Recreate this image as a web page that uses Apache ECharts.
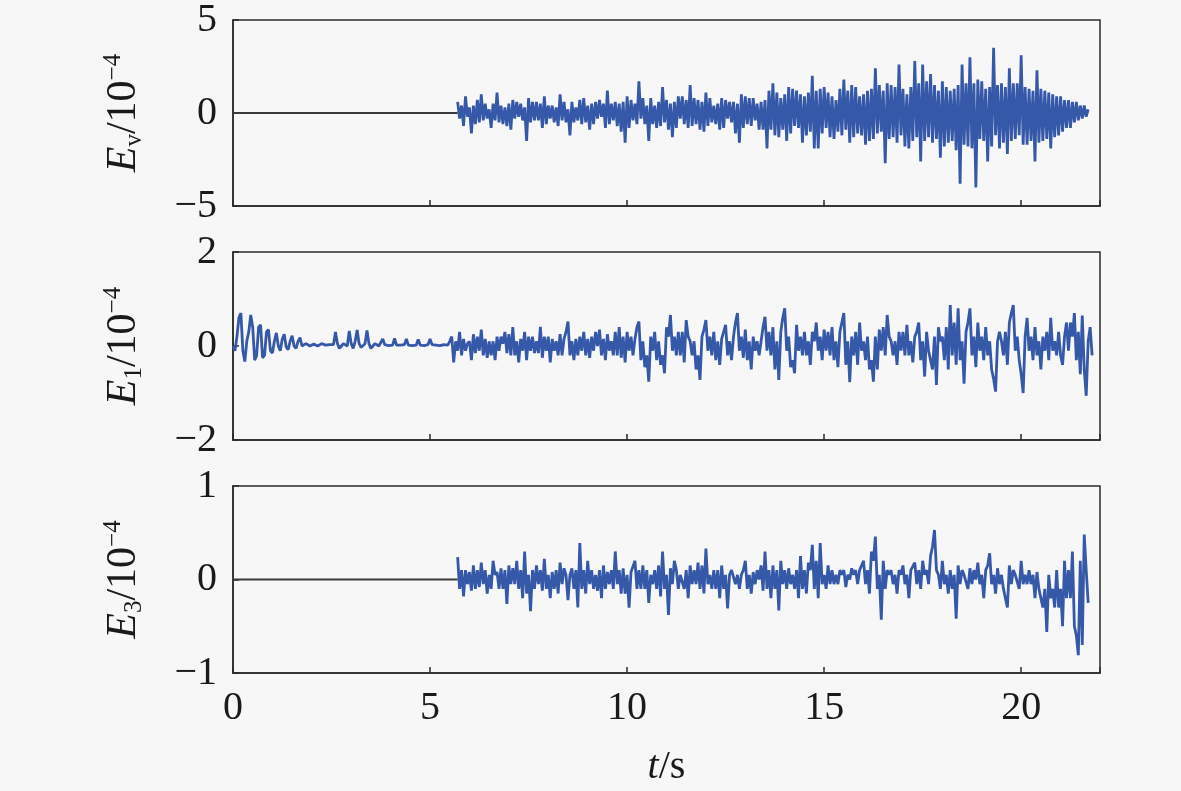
<!DOCTYPE html>
<html><head><meta charset="utf-8">
<script src="https://cdn.jsdelivr.net/npm/echarts@6/dist/echarts.min.js"></script>
<style>html,body{margin:0;padding:0;background:#f7f7f7}#c{width:1181px;height:791px}</style>
</head><body><div id="c"></div>
<script>
// ---- data ----
const dt = 0.05;              // sampling step (s)
const quietStart = 0;         // flat zero segment before the record (panels 1 & 3)
const quietEnd = 5.7;
const xTickLabels = ['0', '5', '10', '15', '20'];

const evStart = 5.7;
const ev = [
  .6,-.3,.4,-.7,.9,-.2,.3,-1.1,.4,-.6,.7,-.5,1.0,-.4,.5,-.3,.2,-.8,.5,-.4,
  1.1,-.5,.4,-.6,.3,-.7,.5,-.9,.7,-.3,.6,-.2,.5,-.4,.3,-1.5,.8,-.5,.6,-.4,
  .6,-.4,.5,-.8,.9,-.6,.4,-.3,.4,-.5,.3,-.7,1.0,-.4,.6,-.5,.2,-1.2,.6,-.5,
  .3,-.4,.7,-.6,.8,-.5,.4,-.9,.5,-.6,.6,-.3,.7,-.2,.5,-.8,1.2,-.6,.5,-.4,
  .6,-.7,.5,-1.0,.6,-1.6,.9,-.8,.7,-.4,.5,-.6,1.7,-.3,.8,-.6,.4,-1.5,.8,-.6,
  .4,-.8,.6,-.7,1.4,-.5,.7,-.9,.5,-1.3,.6,-.8,.9,-.3,.9,-.6,.7,-.8,1.5,-.7,
  .8,-.6,.7,-.9,.6,-1.0,1.1,-.7,.8,-.5,.4,-.6,.5,-.9,.8,-.8,.7,-.3,.6,-.5,
  .6,-1.1,.5,-1.6,1.0,-.8,.9,-.6,.8,-.7,.8,-.4,.5,-.9,.6,-.9,.7,-1.9,1.2,-.9,
  1.6,-1.2,1.1,-1.3,.8,-.9,1.0,-1.5,1.4,-1.1,1.3,-.7,1.2,-.8,1.0,-1.6,.9,-1.2,1.1,-1.0,
  2.0,-1.9,1.2,-1.9,1.3,-1.1,1.4,-.8,1.1,-1.3,.9,-1.4,.7,-1.0,1.3,-1.2,1.8,-.9,1.2,-1.6,
  1.5,-1.3,1.4,-1.1,.9,-1.2,1.0,-1.7,1.2,-1.5,1.3,-1.4,2.4,-1.1,1.5,-1.0,1.2,-2.7,1.6,-1.4,
  1.5,-1.3,1.4,-1.6,2.6,-1.2,1.3,-1.8,1.0,-1.9,1.4,-1.5,2.8,-1.3,1.6,-2.6,2.6,-1.5,1.7,-1.3,
  2.1,-1.6,1.5,-1.4,1.2,-2.4,1.7,-1.8,1.4,-1.6,1.2,-1.5,1.3,-2.0,1.5,-3.8,2.6,-1.7,1.6,-1.8,
  3.0,-1.9,1.6,-4.0,1.8,-1.4,1.7,-1.5,1.3,-2.6,1.4,-1.8,3.5,-1.2,1.5,-1.9,1.6,-1.6,1.4,-2.2,
  2.4,-1.5,1.6,-1.4,1.6,-1.2,3.1,-1.7,1.4,-1.7,1.3,-1.5,1.2,-2.6,2.3,-1.6,1.3,-1.5,1.2,-1.4,
  1.1,-1.9,1.0,-1.3,.9,-1.2,.9,-1.0,.7,-.8,.7,-.8,.6,-.5,.6,-.4,.4,-.3,.4,-.2,
  .2
];

const e1Start = 0;
const e1 = [
  0,-.1,.2,.6,.7,-.1,-.33,.1,.3,.66,.4,-.3,-.2,.4,.45,-.25,-.2,.3,.35,-.1,
  -.15,.1,.28,.0,-.1,.15,.25,-.02,-.08,.1,.22,.0,-.05,.1,.18,.0,-.02,.05,.04,.0,
  .02,.04,.03,.0,.01,.05,.04,.02,.0,.03,.05,.03,.3,.05,-.05,.0,.05,.04,.0,.32,
  .05,-.05,.1,.34,.05,-.03,.0,.05,.33,.05,-.05,.0,.05,.04,.0,.02,.15,.03,.0,.01,
  .03,.02,.16,.02,.0,.02,.04,.03,.15,.02,.0,.01,.03,.02,.14,.02,.0,.01,.02,.03,
  .15,.03,.0,.02,.03,.01,.02,.03,.04,.02,.1,.2,-.35,.1,-.1,.3,-.2,.15,-.1,.05,
  .1,-.3,.25,-.15,.2,-.1,.35,-.2,.15,-.25,.1,-.2,.1,-.3,.2,-.1,.2,.05,.3,-.15,
  .25,-.2,.4,-.2,.1,-.35,.15,-.1,.3,-.3,.2,-.1,.2,-.15,.1,-.15,.41,-.25,.2,-.1,
  .2,-.35,.15,-.1,.1,-.2,.25,-.2,.15,.3,.52,-.2,.1,-.3,.15,-.2,.2,-.1,.3,-.2,
  .15,-.25,.2,-.1,.3,.0,.35,-.2,.15,-.3,.25,-.1,.1,-.2,.3,-.2,.4,-.25,.2,-.35,
  .3,-.1,.2,-.2,.15,.4,.52,-.3,.1,-.45,-.2,-.76,.2,-.1,.3,-.3,.1,-.4,-.2,-.58,
  .4,.2,.66,-.1,.2,-.2,.3,-.2,.3,-.35,.55,.2,.1,-.2,.1,-.5,-.2,-.72,.2,.35,
  .55,-.1,.2,-.2,.3,-.3,.1,-.4,.15,.3,.45,-.2,.1,-.3,.2,.5,.7,-.1,.2,-.25,
  .35,-.3,.1,-.5,.2,-.1,.1,-.2,.1,.4,.62,-.1,.3,-.2,.4,-.5,.1,-.72,.3,.6,
  .8,-.1,.2,-.45,-.3,-.58,.45,-.1,.2,-.2,.3,-.2,.1,-.4,.3,.1,.5,-.1,.2,-.3,
  .35,-.1,.3,-.2,.4,-.3,.1,-.45,.3,.5,.7,-.4,.1,-.77,.2,-.2,.3,-.4,.5,-.1,
  .1,-.3,.2,-.5,-.3,-.76,.2,-.5,.35,-.1,.4,-.2,.66,.2,.1,-.2,.1,-.4,.3,-.1,
  .3,-.2,.45,-.2,.1,-.35,.2,.3,.5,-.3,.1,-.65,.3,-.1,-.3,-.5,.2,-.83,.4,.1,
  .2,-.3,.4,-.5,.87,-.2,.5,-.4,.8,-.3,.1,-.8,.3,.5,.8,-.2,.2,-.45,.5,-.1,
  .2,-.3,.4,-.2,.1,-.5,-.7,-.97,.1,.3,.1,-.2,.3,-.4,.5,.7,.87,-.1,.2,-.3,
  -.6,-1.0,.2,.6,-.1,.2,-.3,.4,-.2,.1,-.5,.2,-.1,.3,-.3,.6,-.1,.1,-.2,.3,
  -.2,-.4,.2,.5,-.1,.5,.2,.7,-.3,.3,-.6,.65,-.5,-1.06,.1,.4,-.2
];

const e3Start = 5.7;
const e3 = [
  .24,-.1,.1,-.18,.1,-.05,.08,-.12,.15,-.1,.1,-.08,.18,-.05,.1,-.15,.05,-.1,.2,.05,
  .08,-.1,.12,-.1,.1,-.26,.15,-.05,.12,-.05,.2,-.1,.1,-.2,.3,-.15,.05,-.34,.1,-.1,
  .15,-.05,.1,-.12,.22,-.1,.05,-.2,.08,-.1,.1,-.15,.18,-.05,.12,.05,-.22,.05,.12,-.1,
  .1,-.3,.39,-.1,.1,-.15,.2,-.05,.1,-.1,.05,-.12,.1,-.2,.15,-.1,.08,-.05,.1,-.1,
  .3,-.05,.1,-.15,.12,-.15,.05,-.3,.08,.1,.2,-.1,.1,-.1,.15,-.1,.1,-.25,.05,-.05,
  .1,-.1,.15,-.18,.3,-.1,.05,-.38,.12,-.05,.2,.1,-.1,.05,.05,-.1,.1,-.2,.15,-.05,
  .1,-.05,.18,-.1,.15,-.15,.33,-.05,.05,-.1,.1,-.1,.1,-.2,.15,-.1,.05,-.31,.05,.1,
  .12,-.05,.05,-.1,.05,.1,.2,-.1,.05,-.15,.08,-.05,.1,.0,.15,-.12,.3,-.1,.1,-.2,
  .15,-.1,.1,-.33,.2,-.05,.1,-.1,.12,-.05,.05,-.1,.1,-.2,.25,-.1,.1,-.15,.18,.1,
  .37,-.1,.2,-.2,.39,-.05,.05,-.1,.15,-.05,.1,-.05,.05,-.05,.1,.05,.1,-.08,.05,.0,
  .12,.05,.1,-.05,.1,.15,.2,-.05,.1,-.15,.3,.2,.46,-.1,.05,-.43,.2,-.1,.1,.05,
  .1,-.05,.05,-.15,.1,.05,.15,-.05,.05,-.2,.1,.08,.18,-.05,.1,-.1,.2,.05,.1,-.05,
  .25,.35,.53,.1,.05,-.1,.2,-.05,.05,-.15,.1,-.1,.05,-.42,.15,-.05,.1,.05,.05,-.1,
  .12,-.05,.1,.0,.18,-.05,.05,-.2,.1,.15,.28,-.05,.05,-.15,.12,-.05,.05,-.1,-.2,-.3,
  .15,-.05,.1,.05,.05,-.1,.2,-.05,.05,-.05,.1,-.05,.05,-.2,.08,-.1,-.12,-.3,-.1,-.56,
  .05,-.2,-.1,-.3,.1,-.3,-.1,-.5,.2,-.2,.1,-.2,.3,-.5,-.6,-.81,.2,-.7,.48,.1,
  -.25
];

// ---- chart ----
const FONT = "'Liberation Serif','Times New Roman',serif";
const TXT = '#1a1a1a';
const FRAME = '#2b2b2b';
const LINE = '#3658a8';
const FLAT = '#3b3b3b';

function toXY(start, arr) { return arr.map((v, i) => [+(start + i * dt).toFixed(3), v]); }
const minus = v => String(v).replace('-', '\u2212');

const panels = [
  { top: 17,  height: 189, range: 5, sub: 'v', start: evStart, vals: ev, quiet: true },
  { top: 252, height: 188, range: 2, sub: '1', start: e1Start, vals: e1, quiet: false },
  { top: 486, height: 187, range: 1, sub: '3', start: e3Start, vals: e3, quiet: true }
];

const grid = [], xAxis = [], yAxis = [], series = [];
panels.forEach((p, k) => {
  grid.push({ left: 233, top: p.top, width: 867, height: p.height, show: true,
    borderColor: FRAME, borderWidth: 1.5, backgroundColor: 'transparent' });
  const last = k === panels.length - 1;
  xAxis.push({ gridIndex: k, type: 'value', min: 0, max: 22, interval: 5,
    axisLine: { show: true, onZero: false, lineStyle: { color: FRAME, width: 1.5 } },
    axisTick: { show: true, inside: true, length: 6, lineStyle: { color: FRAME, width: 1.5 } },
    splitLine: { show: false },
    axisLabel: { show: last, margin: 15, fontFamily: FONT, fontSize: 40, color: TXT,
      formatter: v => xTickLabels[xTickLabels.indexOf(String(v))] || '' },
    name: last ? '{i|t}{n|/s}' : '', nameLocation: 'middle', nameGap: 74,
    nameTextStyle: { rich: {
      i: { fontFamily: FONT, fontStyle: 'italic', fontSize: 40, color: TXT },
      n: { fontFamily: FONT, fontSize: 40, color: TXT } } }
  });
  yAxis.push({ gridIndex: k, type: 'value', min: -p.range, max: p.range, interval: p.range,
    axisLine: { show: true, lineStyle: { color: FRAME, width: 1.5 } },
    axisTick: { show: true, inside: true, length: 6, lineStyle: { color: FRAME, width: 1.5 } },
    splitLine: { show: false },
    axisLabel: { margin: 16, fontFamily: FONT, fontSize: 40, color: TXT, formatter: minus },
    name: '{i|E}{s|' + p.sub + '}{n|/10}{p|\u22124}', nameLocation: 'middle', nameRotate: 90, nameGap: 86,
    nameTextStyle: { rich: {
      i: { fontFamily: FONT, fontStyle: 'italic', fontSize: 42, color: TXT, lineHeight: 46 },
      s: { fontFamily: FONT, fontSize: 25, color: TXT, verticalAlign: 'bottom', lineHeight: 46 },
      n: { fontFamily: FONT, fontSize: 42, color: TXT, lineHeight: 46 },
      p: { fontFamily: FONT, fontSize: 25, color: TXT, verticalAlign: 'top', lineHeight: 46 } } }
  });
  if (p.quiet) {
    series.push({ type: 'line', xAxisIndex: k, yAxisIndex: k, showSymbol: false, silent: true,
      data: [[quietStart, 0], [quietEnd, 0]], lineStyle: { color: FLAT, width: 2 } });
  }
  series.push({ type: 'line', xAxisIndex: k, yAxisIndex: k, showSymbol: false, silent: true,
    sampling: null, data: toXY(p.start, p.vals), lineStyle: { color: LINE, width: 2.8 } });
});

const chart = echarts.init(document.getElementById('c'), null, { renderer: 'canvas' });
chart.setOption({ backgroundColor: '#f7f7f7', animation: false, grid, xAxis, yAxis, series });
</script>
</body></html>
